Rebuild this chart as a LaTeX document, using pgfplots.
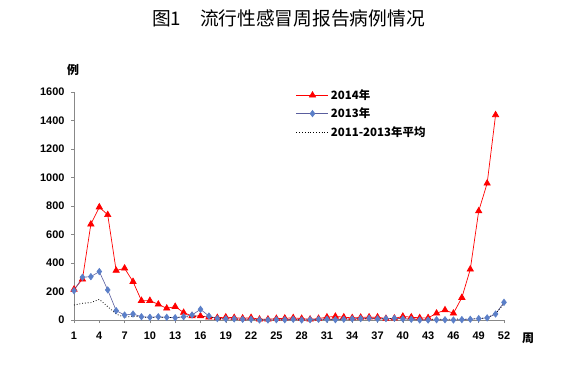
\documentclass[border=0pt]{standalone}
\usepackage{pgfplots}
\pgfplotsset{compat=1.18}
\usepackage{fontspec}
\setmainfont{Liberation Sans}
\newfontfamily\cjk{Noto Sans CJK SC}
\definecolor{bluemk}{HTML}{5B7FC8}
\definecolor{blueln}{HTML}{5A5E9E}
\definecolor{axgray}{HTML}{888888}
\begin{document}
\begin{tikzpicture}[x=1bp,y=1bp]
\path[use as bounding box] (0,0) rectangle (573,384);
\node[font=\cjk\fontsize{18.8}{22}\selectfont] at (288.5,366) {图1\hspace{1em}流行性感冒周报告病例情况};
\begin{axis}[at={(74bp,64bp)}, anchor=south west, scale only axis,
  width=430bp, height=228bp,
  xmin=1, xmax=52, ymin=0, ymax=1600,
  axis x line*=bottom, axis y line*=left,
  axis line style={axgray, line width=0.6pt, -},
  xtick={1,4,...,52}, ytick={0,200,...,1600},
  tick style={axgray, line width=0.5pt},
  tick align=outside, major tick length=3bp,
  /pgf/number format/assume math mode=true,
  /pgf/number format/1000 sep={},
  tick label style={font=\bfseries\fontsize{11}{13}\selectfont},
  xticklabel style={yshift=-5bp},
  yticklabel style={xshift=-3bp},
  legend style={at={(0.516,1.02)}, anchor=north west, draw=none, fill=none,
    font=\cjk\bfseries\fontsize{11.5}{13}\selectfont, row sep=3bp, inner sep=0pt,
    cells={anchor=west}},
  legend image code/.code={\draw[mark repeat=2,mark phase=2] plot coordinates {(0bp,0bp) (16bp,0bp) (32bp,0bp)};},
  clip=false]
\addplot[red, line width=0.7pt, mark=triangle*, mark size=3.6bp, mark options={solid, fill=red, draw=red}] coordinates {
(1,215)(2,286)(3,672)(4,792)(5,738)(6,347)(7,363)(8,269)(9,136)(10,136)
(11,110)(12,82)(13,94)(14,52)(15,28)(16,28)(17,19)(18,16)(19,20)(20,16)
(21,12)(22,16)(23,5)(24,5)(25,10)(26,12)(27,15)(28,10)(29,5)(30,10)
(31,20)(32,25)(33,20)(34,15)(35,18)(36,20)(37,20)(38,10)(39,12)(40,25)
(41,20)(42,15)(43,15)(44,47)(45,70)(46,47)(47,157)(48,356)(49,765)(50,959)
(51,1439)};
\addlegendentry{2014年}
\addplot[blueln, line width=0.6pt, mark=diamond*, mark size=3.2bp, mark options={solid, fill=bluemk, draw=bluemk}] coordinates {
(1,206)(2,300)(3,304)(4,340)(5,211)(6,66)(7,35)(8,42)(9,23)(10,19)
(11,23)(12,19)(13,16)(14,23)(15,35)(16,75)(17,28)(18,10)(19,8)(20,8)
(21,5)(22,5)(23,0)(24,0)(25,2)(26,2)(27,5)(28,0)(29,2)(30,5)
(31,5)(32,2)(33,5)(34,8)(35,10)(36,12)(37,8)(38,10)(39,12)(40,8)
(41,5)(42,0)(43,0)(44,2)(45,2)(46,0)(47,3)(48,5)(49,10)(50,15)
(51,42)(52,124)};
\addlegendentry{2013年}
\addplot[black, line width=0.8pt, dotted, no marks] coordinates {
(1,105)(2,117)(3,122)(4,145)(5,94)(6,42)(7,19)(8,28)(9,20)(10,18)
(11,18)(12,18)(13,18)(14,20)(15,25)(16,30)(17,20)(18,12)(19,10)(20,8)
(21,7)(22,6)(23,5)(24,5)(25,5)(26,5)(27,6)(28,5)(29,5)(30,6)
(31,6)(32,6)(33,7)(34,8)(35,8)(36,9)(37,8)(38,8)(39,9)(40,8)
(41,7)(42,6)(43,6)(44,6)(45,6)(46,6)(47,7)(48,8)(49,10)(50,15)
(51,45)(52,115)};
\addlegendentry{2011-2013年平均}
\end{axis}
\node[font=\cjk\bfseries\fontsize{12}{14}\selectfont] at (73,314) {例};
\node[font=\cjk\bfseries\fontsize{12}{14}\selectfont] at (528,46) {周};
\end{tikzpicture}
\end{document}
